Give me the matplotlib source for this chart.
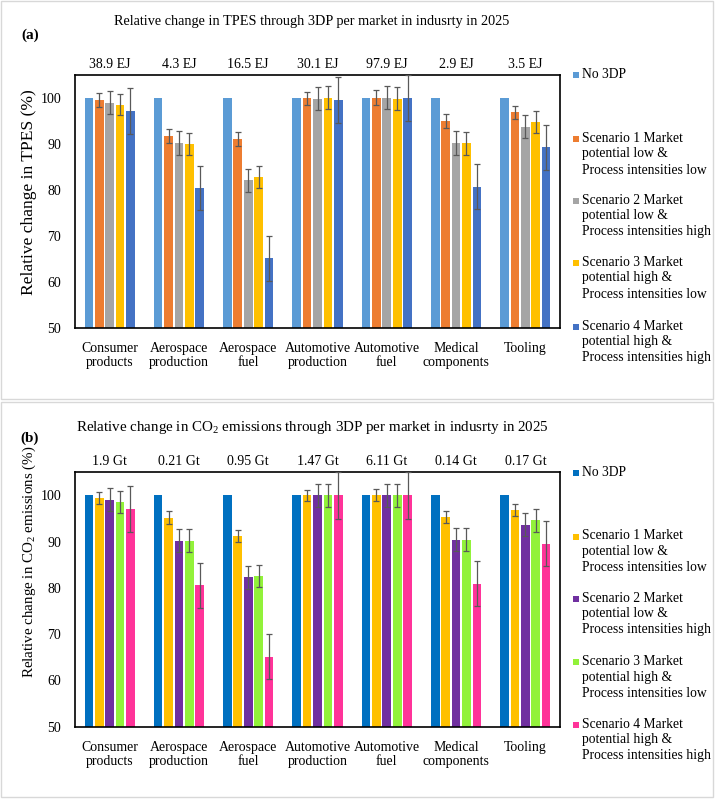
import matplotlib
matplotlib.use("Agg")
import matplotlib.pyplot as plt
from matplotlib.patches import Rectangle
import numpy as np

plt.rcParams['font.family'] = ['Liberation Serif', 'DejaVu Serif']
plt.rcParams['mathtext.fontset'] = 'custom'
plt.rcParams['mathtext.rm'] = 'Liberation Serif'
plt.rcParams['mathtext.it'] = 'Liberation Serif:italic'

categories = ["Consumer\nproducts", "Aerospace\nproduction", "Aerospace\nfuel",
              "Automotive\nproduction", "Automotive\nfuel", "Medical\ncomponents", "Tooling"]
series_names = ["No 3DP",
                "Scenario 1 Market\npotential low &\nProcess intensities low",
                "Scenario 2 Market\npotential low &\nProcess intensities high",
                "Scenario 3 Market\npotential high &\nProcess intensities low",
                "Scenario 4 Market\npotential high &\nProcess intensities high"]

# Panel (a): TPES
tpes_totals = ["38.9 EJ", "4.3 EJ", "16.5 EJ", "30.1 EJ", "97.9 EJ", "2.9 EJ", "3.5 EJ"]
tpes_no3dp = [100, 100, 100, 100, 100, 100, 100]
tpes_s1 = [99.5, 91.7, 91.1, 99.9, 100.0, 95.0, 96.8]
tpes_s2 = [98.9, 90.1, 82.1, 99.8, 100.0, 90.2, 93.7]
tpes_s3 = [98.5, 90.0, 82.7, 100.0, 99.8, 90.1, 94.7]
tpes_s4 = [97.1, 80.4, 65.1, 99.6, 100.0, 80.7, 89.2]
tpes_err_s1 = [1.5, 1.5, 1.5, 1.45, 1.6, 1.5, 1.5]
tpes_err_s2 = [2.5, 2.6, 2.5, 2.55, 2.5, 2.55, 2.5]
tpes_err_s3 = [2.35, 2.4, 2.4, 2.45, 2.5, 2.5, 2.4]
tpes_err_s4 = [5.0, 4.85, 4.9, 5.0, 5.0, 4.9, 4.9]

# Panel (b): CO2
co2_totals = ["1.9 Gt", "0.21 Gt", "0.95 Gt", "1.47 Gt", "6.11 Gt", "0.14 Gt", "0.17 Gt"]
co2_no3dp = [100, 100, 100, 100, 100, 100, 100]
co2_s1 = [99.4, 95.15, 91.25, 100.0, 100.0, 95.3, 96.95]
co2_s2 = [99.1, 90.25, 82.3, 100.0, 100.0, 90.45, 93.7]
co2_s3 = [98.6, 90.25, 82.5, 100.0, 100.0, 90.45, 94.65]
co2_s4 = [97.1, 80.55, 65.15, 100.0, 100.0, 80.9, 89.6]
co2_err_s1 = [1.3, 1.4, 1.3, 1.2, 1.3, 1.3, 1.3]
co2_err_s2 = [2.5, 2.5, 2.5, 2.5, 2.5, 2.45, 2.5]
co2_err_s3 = [2.4, 2.5, 2.4, 2.4, 2.5, 2.5, 2.5]
co2_err_s4 = [4.95, 4.9, 4.9, 5.0, 5.0, 4.9, 4.95]

colors_a = ["#5B9BD5", "#ED7D31", "#A5A5A5", "#FFC000", "#4472C4"]
colors_b = ["#0070C0", "#FFC000", "#7030A0", "#92F23A", "#FF3399"]

W, H = 716, 799
fig = plt.figure(figsize=(W / 100, H / 100), dpi=100)

# panel borders
for (x0, y0, x1, y1) in [(1, 1, 713, 399), (1, 402, 713, 797)]:
    fig.patches.append(Rectangle((x0 / W, 1 - y1 / H), (x1 - x0) / W, (y1 - y0) / H,
                                 transform=fig.transFigure, fill=False,
                                 edgecolor="#D8D8D8", linewidth=1.0))


def panel(top_px, bottom_px, series, errs, colors, totals, ylabel, ylabel_size, ylabel_pos,
          title, title_size, tag, title_y, tag_y, legend_ys):
    ax = fig.add_axes([75 / W, 1 - bottom_px / H, (560 - 75) / W, (bottom_px - top_px) / H])
    x = np.arange(len(categories))
    pitch, width = 0.15, 0.125
    for i, (vals, col) in enumerate(zip(series, colors)):
        err = errs[i]
        ax.bar(x + (i - 2) * pitch, vals, width=width, color=col, zorder=2,
               yerr=err, error_kw=dict(ecolor="#595959", elinewidth=0.9, capsize=2,
                                       capthick=0.9, zorder=3) if err is not None else None)
    ax.set_ylim(50, 105)
    ax.set_xlim(-0.5, len(categories) - 0.5)
    ax.set_yticks([50, 60, 70, 80, 90, 100])
    ax.set_xticks(x)
    ax.set_xticklabels(categories, fontsize=10, linespacing=1.15)
    ax.tick_params(axis='x', length=0, pad=10)
    ax.tick_params(axis='y', length=0, pad=10, labelsize=10)
    for s in ax.spines.values():
        s.set_linewidth(1.2)
        s.set_color("black")
    ax.set_ylabel(ylabel, fontsize=ylabel_size, va='center')
    ax.yaxis.set_label_coords(-45.5 / (560 - 75), ylabel_pos)
    for i, t in enumerate(totals):
        ax.annotate(t, xy=(x[i], 1.0), xycoords=('data', 'axes fraction'),
                    xytext=(0, 7.7), textcoords='offset points',
                    ha='center', va='center', fontsize=10)
    fig.text(312 / W, 1 - title_y / H, title, ha='center', va='center', fontsize=title_size)
    fig.text(30 / W, 1 - tag_y / H, tag, ha='center', va='center', fontsize=11,
             fontweight='bold')
    # legend
    for name, col, ly in zip(series_names, colors, legend_ys):
        fig.patches.append(Rectangle((572.5 / W, 1 - (ly + 3) / H), 6 / W, 6 / H,
                                     transform=fig.transFigure, facecolor=col,
                                     edgecolor='none'))
        fig.text(582 / W, 1 - (ly - 7.5) / H, name, ha='left', va='top', fontsize=9.8,
                 linespacing=1.3)
    return ax


panel(74.7, 328, [tpes_no3dp, tpes_s1, tpes_s2, tpes_s3, tpes_s4],
      [None, tpes_err_s1, tpes_err_s2, tpes_err_s3, tpes_err_s4], colors_a, tpes_totals,
      "Relative change in TPES (%)", 12.6, 0.535,
      "Relative change in TPES through 3DP per market in indusrty in 2025", 10.3, "(a)",
      22, 35, [75, 139, 201, 263, 327])

panel(472.3, 726.7, [co2_no3dp, co2_s1, co2_s2, co2_s3, co2_s4],
      [None, co2_err_s1, co2_err_s2, co2_err_s3, co2_err_s4], colors_b, co2_totals,
      r"Relative change in CO$_\mathrm{2}$ emissions (%)", 10.8, 0.65,
      r"Relative change in CO$_\mathrm{2}$ emissions through 3DP per market in indusrty in 2025",
      10.8, "(b)", 428, 438, [473.3, 536.7, 599, 662.3, 725])

fig.savefig("out.png", dpi=100)
